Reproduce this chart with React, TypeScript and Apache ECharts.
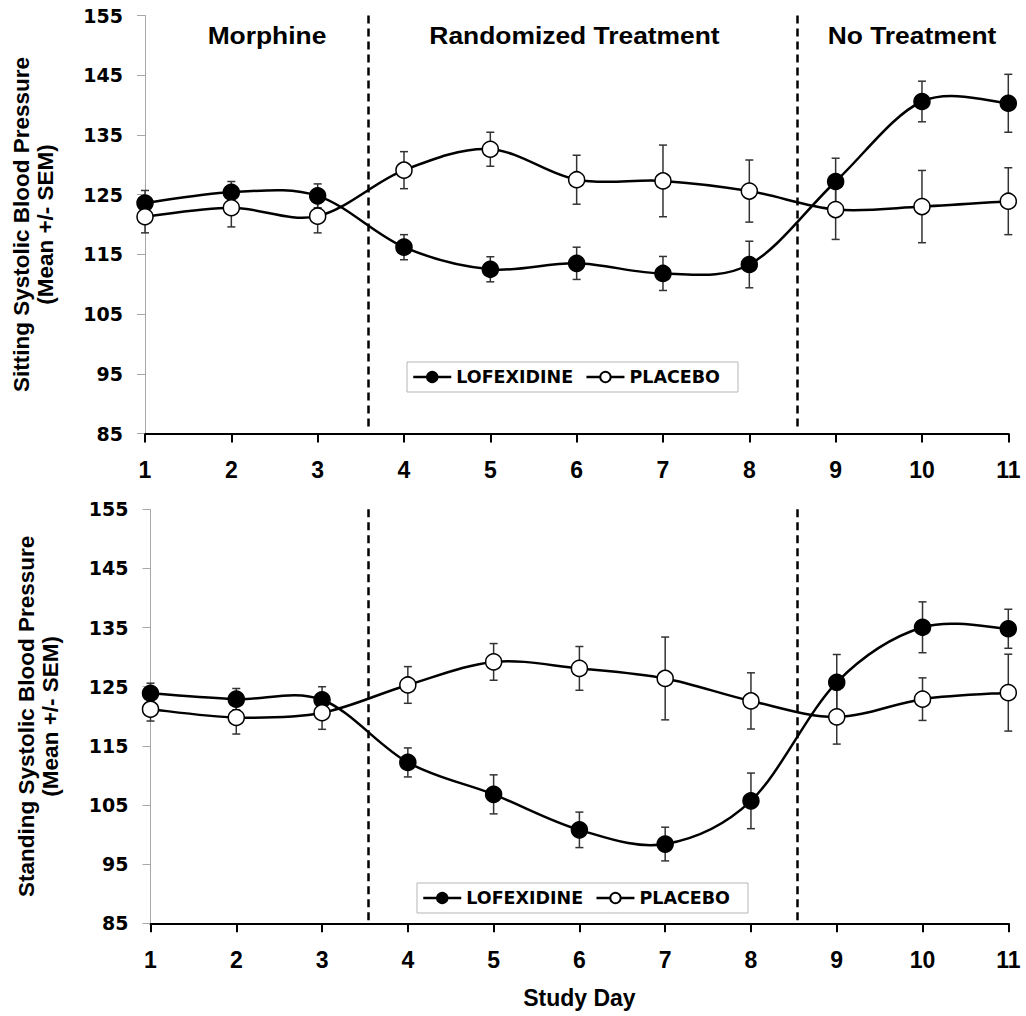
import React, { useEffect, useRef } from "react";
import * as echarts from "echarts";

const days = [1, 2, 3, 4, 5, 6, 7, 8, 9, 10, 11];
const yTicks = [85, 95, 105, 115, 125, 135, 145, 155];
const seriesNames = ["LOFEXIDINE", "PLACEBO"];
const phaseLabels = ["Morphine", "Randomized Treatment", "No Treatment"];

const sitLofex = [123.6, 125.4, 124.8, 116.2, 112.5, 113.5, 111.8, 113.3, 127.2, 140.6, 140.3];
const sitLofexSem = [2.1, 1.8, 2.0, 2.1, 2.1, 2.7, 2.85, 3.9, 3.9, 3.4, 4.85];
const sitPlacebo = [121.3, 122.8, 121.4, 129.1, 132.6, 127.5, 127.3, 125.6, 122.5, 123.0, 123.9];
const sitPlaceboSem = [2.7, 3.2, 2.8, 3.1, 2.85, 4.1, 6.0, 5.2, 5.0, 6.05, 5.6];

const standLofex = [123.9, 122.9, 122.8, 112.2, 106.8, 100.8, 98.4, 105.7, 125.75, 135.05, 134.8];
const standLofexSem = [1.7, 1.8, 2.2, 2.45, 3.3, 3.0, 2.85, 4.7, 4.7, 4.3, 3.3];
const standPlacebo = [121.2, 119.8, 120.6, 125.3, 129.2, 128.1, 126.4, 122.6, 119.9, 122.9, 124.0];
const standPlaceboSem = [2.0, 2.8, 2.8, 3.1, 3.1, 3.7, 7.0, 4.75, 4.6, 3.6, 6.5];

const sitDividers = [3.585, 8.56];
const standDividers = [3.54, 8.545];

export default function App() {
  const ref = useRef<HTMLDivElement>(null);

  useEffect(() => {
    document.body.style.margin = "0";
    const chart = echarts.init(ref.current!, null, { renderer: "svg" });

    const tickFont = "'DejaVu Sans', sans-serif";
    const arial = "'Liberation Sans', Arial, sans-serif";

    const mkXAxis = (gridIndex: number, withName: boolean) => ({
      type: "value",
      gridIndex,
      min: 1,
      max: 11,
      interval: 1,
      splitLine: { show: false },
      axisLine: { show: true, onZero: false, lineStyle: { color: "#000", width: 2 } },
      axisTick: { show: true, length: 9, inside: false, lineStyle: { color: "#000", width: 2 } },
      axisLabel: { margin: 25, fontFamily: arial, fontWeight: "bold", fontSize: 23, color: "#000" },
      name: withName ? "Study Day" : "",
      nameLocation: "middle",
      nameGap: 63,
      nameTextStyle: { fontFamily: arial, fontWeight: "bold", fontSize: 23, color: "#000" },
    });

    const mkYAxis = (gridIndex: number, title: string) => ({
      type: "value",
      gridIndex,
      min: 85,
      max: 155,
      interval: 10,
      splitLine: { show: false },
      axisLine: { show: true, onZero: false, lineStyle: { color: "#a8a8a8", width: 1 } },
      axisTick: { show: true, length: 8, lineStyle: { color: "#a8a8a8", width: 1 } },
      axisLabel: { margin: 22, fontFamily: tickFont, fontWeight: "bold", fontSize: 19, color: "#000" },
      name: title + "\n(Mean +/- SEM)",
      nameLocation: "middle",
      nameRotate: 90,
      nameGap: 88,
      nameTextStyle: { fontFamily: arial, fontWeight: "bold", fontSize: 22.5, lineHeight: 24, color: "#000", align: "center" },
    });

    const errSeries = (idx: number, vals: number[], sems: number[]) => ({
      type: "custom",
      xAxisIndex: idx,
      yAxisIndex: idx,
      z: 1,
      silent: true,
      data: days.map((d, i) => [d, vals[i] - sems[i], vals[i] + sems[i]]),
      encode: { x: 0, y: [1, 2] },
      renderItem: (params: any, api: any) => {
        const x = api.value(0);
        const lo = api.coord([x, api.value(1)]);
        const hi = api.coord([x, api.value(2)]);
        const w = 4;
        const st = { stroke: "#333", lineWidth: 1.5 };
        return {
          type: "group",
          children: [
            { type: "line", shape: { x1: lo[0], y1: lo[1], x2: hi[0], y2: hi[1] }, style: st },
            { type: "line", shape: { x1: lo[0] - w, y1: lo[1], x2: lo[0] + w, y2: lo[1] }, style: st },
            { type: "line", shape: { x1: hi[0] - w, y1: hi[1], x2: hi[0] + w, y2: hi[1] }, style: st },
          ],
        };
      },
    });

    // Excel-like smoothed line (Catmull-Rom Bezier segments) through the data points
    const curveSeries = (idx: number, vals: number[]) => ({
      type: "custom",
      xAxisIndex: idx,
      yAxisIndex: idx,
      z: 2,
      silent: true,
      data: days.map((d, i) => [d, vals[i]]),
      encode: { x: 0, y: 1 },
      renderItem: (params: any, api: any) => {
        const i = params.dataIndex;
        const n = days.length;
        if (i >= n - 1) return null;
        const pt = (k: number) => {
          const kk = Math.max(0, Math.min(n - 1, k));
          return api.coord([days[kk], vals[kk]]);
        };
        const p0 = pt(i - 1);
        const p1 = pt(i);
        const p2 = pt(i + 1);
        const p3 = pt(i + 2);
        const t = 1 / 6;
        return {
          type: "bezierCurve",
          shape: {
            x1: p1[0],
            y1: p1[1],
            cpx1: p1[0] + (p2[0] - p0[0]) * t,
            cpy1: p1[1] + (p2[1] - p0[1]) * t,
            cpx2: p2[0] - (p3[0] - p1[0]) * t,
            cpy2: p2[1] - (p3[1] - p1[1]) * t,
            x2: p2[0],
            y2: p2[1],
          },
          style: { stroke: "#000", lineWidth: 2.5, fill: null },
        };
      },
    });

    const lineSeries = (
      idx: number,
      name: string,
      vals: number[],
      filled: boolean,
      dividers?: { xAxis?: number; coord?: number[] }[][]
    ) => ({
      type: "line",
      name,
      xAxisIndex: idx,
      yAxisIndex: idx,
      z: 3,
      symbol: "circle",
      symbolSize: 16,
      showSymbol: true,
      data: days.map((d, i) => [d, vals[i]]),
      lineStyle: { color: "#000", width: 2.5, opacity: 0 },
      itemStyle: { color: filled ? "#000" : "#fff", borderColor: "#000", borderWidth: 1.5 },
      markLine: dividers
        ? {
            silent: true,
            symbol: ["none", "none"],
            label: { show: false },
            lineStyle: { color: "#000", width: 2.5, type: [8, 5], opacity: 1 },
            data: dividers,
          }
        : undefined,
    });

    const mkLegend = (left: number, top: number) => ({
      show: true,
      left,
      top,
      orient: "horizontal",
      data: seriesNames,
      itemWidth: 38,
      itemHeight: 13,
      itemGap: 12,
      padding: [6, 18, 6, 5],
      backgroundColor: "#fff",
      borderColor: "#b5b5b5",
      borderWidth: 1,
      borderRadius: 0,
      selectedMode: false,
      textStyle: { fontFamily: tickFont, fontWeight: "bold", fontSize: 17.5, color: "#000" },
      lineStyle: { width: 2.5, color: "#000", opacity: 1 },
    });

    const sitMark = sitDividers.map((d) => [{ coord: [d, 155] }, { coord: [d, 86] }]);
    const standMark = standDividers.map((d) => [{ coord: [d, 155] }, { coord: [d, 85] }]);

    const option: any = {
      animation: false,
      backgroundColor: "#fff",
      grid: [
        { left: 145, top: 15.5, width: 863.3, height: 418, outerBoundsMode: "none", containLabel: false },
        { left: 150.5, top: 509.3, width: 857.8, height: 414, outerBoundsMode: "none", containLabel: false },
      ],
      xAxis: [mkXAxis(0, false), mkXAxis(1, true)],
      yAxis: [
        mkYAxis(0, "Sitting Systolic Blood Pressure"),
        mkYAxis(1, "Standing Systolic Blood Pressure"),
      ],
      legend: [mkLegend(407, 362), mkLegend(417, 883)],
      series: [
        errSeries(0, sitLofex, sitLofexSem),
        errSeries(0, sitPlacebo, sitPlaceboSem),
        errSeries(1, standLofex, standLofexSem),
        errSeries(1, standPlacebo, standPlaceboSem),
        curveSeries(0, sitLofex),
        curveSeries(0, sitPlacebo),
        curveSeries(1, standLofex),
        curveSeries(1, standPlacebo),
        lineSeries(0, seriesNames[0], sitLofex, true, sitMark),
        lineSeries(0, seriesNames[1], sitPlacebo, false),
        lineSeries(1, seriesNames[0], standLofex, true, standMark),
        lineSeries(1, seriesNames[1], standPlacebo, false),
      ],
      graphic: [
        { type: "text", x: 267, y: 35, scaleX: 1.1, style: { text: phaseLabels[0], font: `bold 24px ${arial}`, fill: "#000", align: "center", verticalAlign: "middle" } },
        { type: "text", x: 574.5, y: 35, scaleX: 1.1, style: { text: phaseLabels[1], font: `bold 24px ${arial}`, fill: "#000", align: "center", verticalAlign: "middle" } },
        { type: "text", x: 912, y: 35, scaleX: 1.1, style: { text: phaseLabels[2], font: `bold 24px ${arial}`, fill: "#000", align: "center", verticalAlign: "middle" } },
      ],
    };

    chart.setOption(option);
    return () => chart.dispose();
  }, []);

  return <div ref={ref} style={{ width: 1026, height: 1016 }} />;
}
